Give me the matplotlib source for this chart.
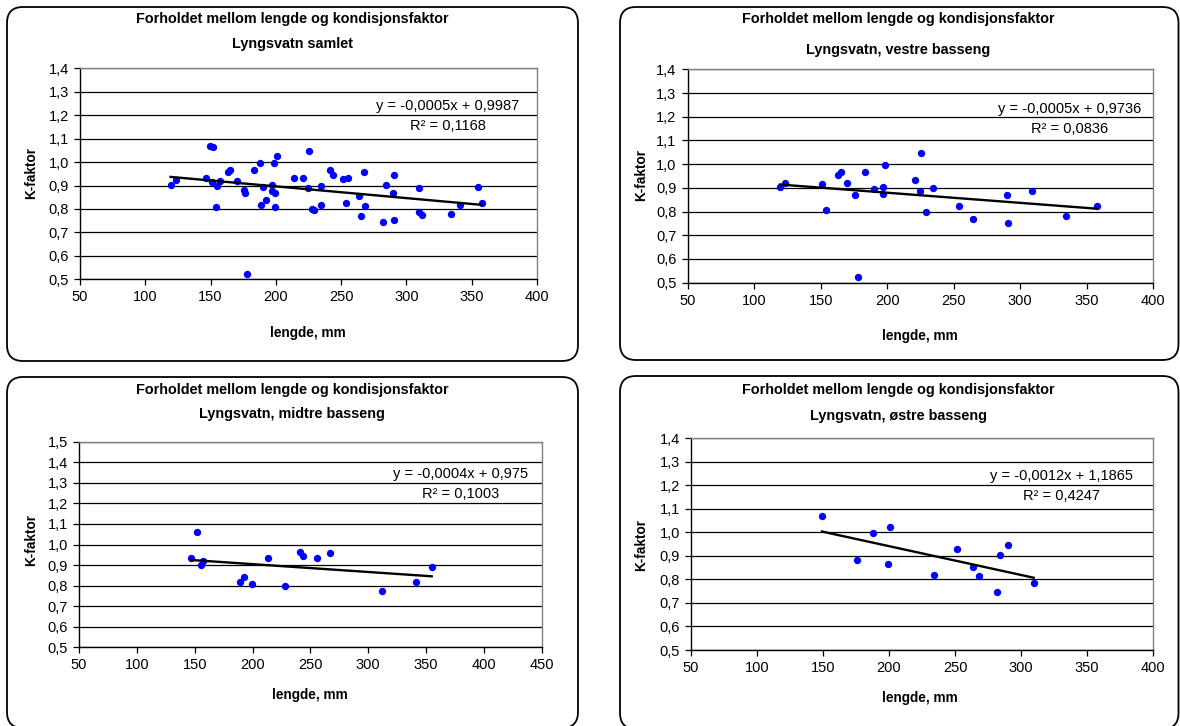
import numpy as np
import matplotlib
matplotlib.use("Agg")
import matplotlib.pyplot as plt
from matplotlib.patches import FancyBboxPatch
from matplotlib.transforms import IdentityTransform
from matplotlib.ticker import FuncFormatter, MultipleLocator

plt.rcParams['font.family'] = ['Liberation Sans', 'DejaVu Sans']

# ---- data ----
vestre_x = [119.4, 123.4, 151, 154, 163, 165, 170, 176, 178, 183, 190.3, 197, 197, 198.3,
            221, 224.6, 225.6, 229.4, 234.6, 253.7, 264.9, 290, 290.7, 309.3, 334.3, 357.6]
vestre_y = [0.904, 0.922, 0.916, 0.808, 0.956, 0.967, 0.921, 0.870, 0.524, 0.967, 0.894, 0.904, 0.876, 0.995,
            0.933, 0.888, 1.046, 0.797, 0.899, 0.825, 0.769, 0.870, 0.752, 0.888, 0.780, 0.825]
midtre_x = [146.8, 151.7, 155.2, 157.5, 188.9, 192.7, 199.6, 213.7, 227.8, 241.4, 244, 255.5,
            267.3, 311.7, 341.1, 354.9]
midtre_y = [0.933, 1.063, 0.898, 0.920, 0.819, 0.840, 0.808, 0.933, 0.800, 0.965, 0.944, 0.933,
            0.959, 0.774, 0.819, 0.892]
ostre_x = [149.2, 175.4, 187.8, 199.6, 200.9, 234.4, 251.6, 263.7, 268, 282.1, 284.1, 290.2, 309.6]
ostre_y = [1.070, 0.883, 0.996, 0.866, 1.024, 0.818, 0.928, 0.854, 0.813, 0.745, 0.904, 0.945, 0.785]
samlet_x = vestre_x + midtre_x + ostre_x
samlet_y = vestre_y + midtre_y + ostre_y

title_main = "Forholdet mellom lengde og kondisjonsfaktor"
subtitles = ["Lyngsvatn samlet", "Lyngsvatn, vestre basseng",
             "Lyngsvatn, midtre basseng", "Lyngsvatn, østre basseng"]
equations = ["y = -0,0005x + 0,9987\nR² = 0,1168",
             "y = -0,0005x + 0,9736\nR² = 0,0836",
             "y = -0,0004x + 0,975\nR² = 0,1003",
             "y = -0,0012x + 1,1865\nR² = 0,4247"]
xlabel = "lengde, mm"
ylabel = "K-faktor"

W, H = 1180, 726
fig = plt.figure(figsize=(W / 100, H / 100), dpi=100)

def px_axes(l, r, t, b):
    return fig.add_axes([l / W, 1 - b / H, (r - l) / W, (b - t) / H])

panels = [
    dict(x=samlet_x, y=samlet_y, ax=(80, 537, 68.3, 279.3), xlim=(50, 400), ylim=(0.5, 1.4),
         box=(7, 7, 578, 361), t1=(292, 19), t2=(292, 44), xl=(308, 333), yl=(31, 173),
         eq=(331.8, 1.195)),
    dict(x=vestre_x, y=vestre_y, ax=(687.7, 1153, 69.3, 282.7), xlim=(50, 400), ylim=(0.5, 1.4),
         box=(620, 7, 1178.5, 360), t1=(898, 19), t2=(898, 50), xl=(920, 336), yl=(641, 175),
         eq=(337.3, 1.189)),
    dict(x=midtre_x, y=midtre_y, ax=(79, 541.7, 441.7, 647.3), xlim=(50, 450), ylim=(0.5, 1.5),
         box=(7, 377, 578, 728), t1=(292, 390), t2=(292, 414), xl=(310, 695), yl=(31, 540),
         eq=(380, 1.296)),
    dict(x=ostre_x, y=ostre_y, ax=(691, 1153, 438.3, 650), xlim=(50, 400), ylim=(0.5, 1.4),
         box=(620, 376, 1178.5, 729), t1=(898, 390), t2=(898, 416), xl=(920, 698), yl=(641, 545),
         eq=(330.8, 1.197)),
]

comma = FuncFormatter(lambda v, p: f"{v:.1f}".replace(".", ","))

for i, p in enumerate(panels):
    x0, y0, x1, y1 = p['box']
    fig.patches.append(FancyBboxPatch((x0, H - y1), x1 - x0, y1 - y0,
                                      boxstyle="round,pad=0,rounding_size=16",
                                      transform=IdentityTransform(), fill=False,
                                      ec='black', lw=1.3, zorder=0))
    ax = px_axes(*p['ax'])
    ax.set_xlim(*p['xlim'])
    ax.set_ylim(*p['ylim'])
    ax.xaxis.set_major_locator(MultipleLocator(50))
    ax.yaxis.set_major_locator(MultipleLocator(0.1))
    ax.yaxis.set_major_formatter(comma)
    ax.grid(axis='y', color='black', lw=0.9)
    ax.set_axisbelow(True)
    for s in ['top', 'right']:
        ax.spines[s].set_color('#808080')
        ax.spines[s].set_linewidth(1.0)
    for s in ['left', 'bottom']:
        ax.spines[s].set_color('black')
        ax.spines[s].set_linewidth(1.0)
    ax.tick_params(direction='out', length=4, width=0.9, labelsize=10.5, pad=4)
    xs = np.array(p['x']); ys = np.array(p['y'])
    ax.scatter(xs, ys, s=28, color='#0000FF', zorder=3, linewidths=0)
    k, m = np.polyfit(xs, ys, 1)
    xx = np.array([xs.min(), xs.max()])
    ax.plot(xx, k * xx + m, color='black', lw=1.7, zorder=4)
    ax.text(p['eq'][0], p['eq'][1], equations[i], ha='center', va='center',
            fontsize=10.5, linespacing=1.55, zorder=5)
    fig.text(p['t1'][0] / W, 1 - p['t1'][1] / H, title_main, ha='center', va='center',
             fontsize=10.4, fontweight='bold')
    fig.text(p['t2'][0] / W, 1 - p['t2'][1] / H, subtitles[i], ha='center', va='center',
             fontsize=10.4, fontweight='bold')
    fig.text(p['xl'][0] / W, 1 - p['xl'][1] / H, xlabel, ha='center', va='center',
             fontsize=9.8, fontweight='bold')
    fig.text(p['yl'][0] / W, 1 - p['yl'][1] / H, ylabel, ha='center', va='center',
             fontsize=9.8, fontweight='bold', rotation=90)

fig.savefig("out.png", dpi=100)
